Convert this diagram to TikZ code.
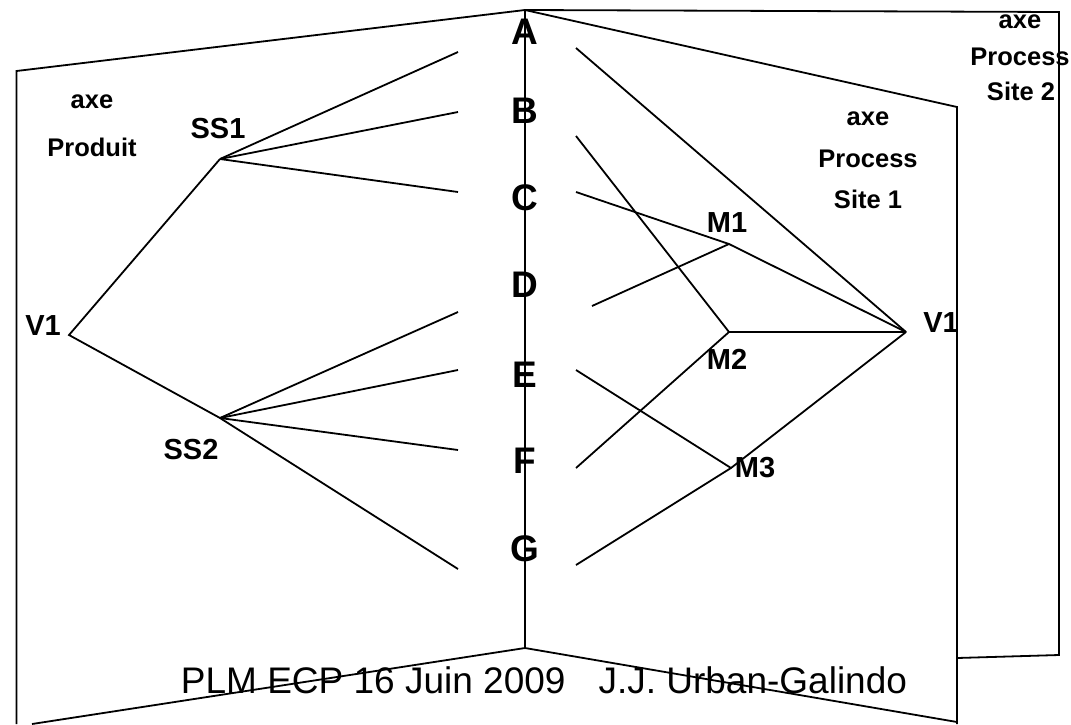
\documentclass[tikz,border=0pt]{standalone}
\usepackage{fontspec}
\setmainfont{Liberation Sans}
\begin{document}
\begin{tikzpicture}[x=1pt,y=-1pt,line width=1.8pt,line join=miter,
  big/.style={font=\bfseries\fontsize{37}{37}\selectfont,inner sep=0pt,anchor=base},
  lbl/.style={font=\bfseries\fontsize{29}{29}\selectfont,inner sep=0pt,anchor=base},
  axl/.style={font=\bfseries\fontsize{25.5}{25.5}\selectfont,inner sep=0pt,anchor=base},
  foot/.style={font=\fontsize{37}{37}\selectfont,inner sep=0pt,anchor=base}]
\useasboundingbox (0,0) rectangle (1071,724);
% panel corners
\coordinate (apex) at (525,10);
\coordinate (LT) at (16.5,71);
\coordinate (LB) at (16.5,724);
\coordinate (axB) at (525,648);
\coordinate (LBe) at (32,724);
\coordinate (P1T) at (957,107);
\coordinate (P1B) at (957,724);
\coordinate (P1Bc) at (957,722);
\coordinate (P1Bm) at (957,658);
\coordinate (P2T) at (1059,12);
\coordinate (P2B) at (1059,655);
% panels
\draw (LB) -- (LT) -- (apex);
\draw (apex) -- (axB);
\draw (axB) -- (LBe);
\draw (apex) -- (P1T) -- (P1B);
\draw (axB) -- (P1Bc);
\draw (apex) -- (P2T) -- (P2B) -- (P1Bm);
% left tree points
\coordinate (V1L) at (69,335);
\coordinate (SS1p) at (220,159);
\coordinate (SS2p) at (220,418);
\coordinate (a1) at (458,52);
\coordinate (b1) at (458,112);
\coordinate (c1) at (458,192);
\coordinate (d1) at (458,312);
\coordinate (e1) at (458,370);
\coordinate (f1) at (458,450);
\coordinate (g1) at (458,569);
\draw (SS1p) -- (V1L) -- (SS2p) -- (g1);
\draw (SS1p) -- (a1);
\draw (SS1p) -- (b1);
\draw (SS1p) -- (c1);
\draw (SS2p) -- (d1);
\draw (SS2p) -- (e1);
\draw (SS2p) -- (f1);
% right tree points
\coordinate (aR) at (576,48);
\coordinate (bR) at (576,136);
\coordinate (cR) at (576,192);
\coordinate (dR) at (592,306);
\coordinate (eR) at (576,370);
\coordinate (fR) at (576,468);
\coordinate (gR) at (576,565);
\coordinate (M1p) at (729,244);
\coordinate (M2p) at (729,332);
\coordinate (M3p) at (731,468);
\coordinate (V1R) at (906,332);
\draw (aR) -- (V1R);
\draw (bR) -- (M2p) -- (V1R);
\draw (cR) -- (M1p) -- (V1R);
\draw (dR) -- (M1p);
\draw (fR) -- (M2p);
\draw (eR) -- (M3p);
\draw (gR) -- (M3p) -- (V1R);
% axis letters
\node[big] (A) at (525,44) {A};
\node[big] (B) at (525,123) {B};
\node[big] (C) at (525,210) {C};
\node[big] (D) at (525,297) {D};
\node[big] (E) at (525,387) {E};
\node[big] (F) at (525,473) {F};
\node[big] (G) at (525,561) {G};
% labels
\node[axl] (axeL) at (92,108) {axe};
\node[axl] (prodL) at (92,156) {Produit};
\node[lbl] (ss1) at (218,138) {SS1};
\node[lbl] (v1l) at (43,335) {V1};
\node[lbl] (ss2) at (191,459) {SS2};
\node[lbl] (m1) at (727,232) {M1};
\node[lbl] (m2) at (727,369) {M2};
\node[lbl] (m3) at (755,477) {M3};
\node[lbl] (v1r) at (941,332) {V1};
\node[axl] (axe1) at (868,125) {axe};
\node[axl] (proc1) at (868,167) {Process};
\node[axl] (site1) at (868,208) {Site 1};
\node[axl] (axe2) at (1020,28) {axe};
\node[axl] (proc2) at (1020,65) {Process};
\node[axl] (site2) at (1021,100) {Site 2};
% footer
\node[foot] (foot) at (544,693) {PLM ECP 16 Juin 2009\hspace{33pt}J.J. Urban-Galindo};
\end{tikzpicture}
\end{document}
